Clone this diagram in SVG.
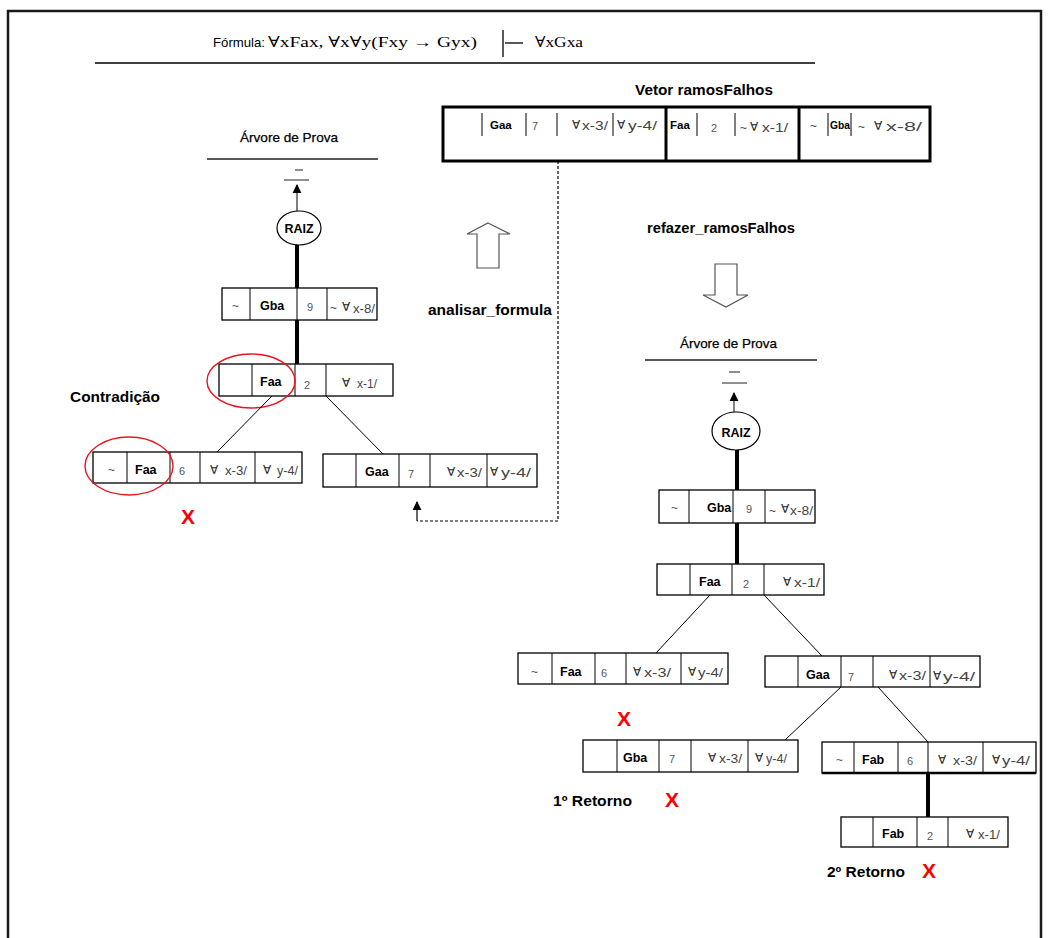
<svg xmlns="http://www.w3.org/2000/svg" width="1051" height="938" viewBox="0 0 1051 938">
  <style>
    text { font-family: "Liberation Sans", Arial, sans-serif; fill: #000; }
    .box { fill: #fff; stroke: #000; stroke-width: 1.3; }
    .vbox { fill: #fff; stroke: #000; stroke-width: 3; }
    .dv { stroke: #000; stroke-width: 1; }
    .dvt { stroke: #000; stroke-width: 3; }
    .b { font-weight: bold; font-size: 12.5px; }
    .bs { font-weight: bold; font-size: 11.5px; }
    .n { font-size: 11px; fill: #555; }
    .t { font-size: 12px; fill: #555; }
    .q { font-size: 12px; fill: #444; }
    .fa { font-family: "DejaVu Sans", sans-serif; font-size: 12px; fill: #222; }
    .lbl { font-weight: bold; font-size: 15px; }
    .ttl { font-size: 13px; stroke: #000; stroke-width: 0.25; }
    .xx { font-weight: bold; font-size: 21px; fill: #f00; }
    .raiz { fill: #fff; stroke: #000; stroke-width: 1.2; }
    .thin { stroke: #000; stroke-width: 1; fill: none; }
    .thick { stroke: #000; stroke-width: 4; fill: none; }
    .dash { stroke: #000; stroke-width: 1.2; fill: none; stroke-dasharray: 3 2; }
    .hollow { fill: #fff; stroke: #555; stroke-width: 1.2; }
    .ring { fill: none; stroke: #e8141c; stroke-width: 1.4; }
    .rule { stroke: #000; stroke-width: 1.3; }
    .serif { font-family: "Liberation Serif", "DejaVu Serif", serif; font-size: 15px; }
  </style>
  <defs>
    <marker id="head" viewBox="0 0 10 10" refX="9" refY="5" markerWidth="9" markerHeight="10" markerUnits="userSpaceOnUse" orient="auto">
      <path d="M0,0 L10,5 L0,10 Z" fill="#000"/>
    </marker>
  </defs>

  <!-- page frame -->
  <path d="M8,938 V11 H1041 V938" fill="none" stroke="#1a1a1a" stroke-width="2.5"/>

  <!-- formula header -->
  <g id="formula">
    <text x="213" y="47" font-size="13.5" textLength="52" lengthAdjust="spacingAndGlyphs">Fórmula:</text>
    <text x="268" y="47" class="serif" textLength="209" lengthAdjust="spacingAndGlyphs">∀xFax, ∀x∀y(Fxy → Gyx)</text>
    <line x1="503" y1="30" x2="503" y2="57" class="rule"/>
    <line x1="505" y1="43" x2="523" y2="43" class="rule"/>
    <text x="535" y="47" class="serif" textLength="48" lengthAdjust="spacingAndGlyphs">∀xGxa</text>
    <line x1="95" y1="63" x2="815" y2="63" stroke="#000" stroke-width="1.5"/>
  </g>

  <!-- vector of failed branches -->
  <g id="vetor">
    <text x="635" y="95" class="lbl" font-size="14.5" textLength="138" lengthAdjust="spacingAndGlyphs">Vetor ramosFalhos</text>
    <rect x="443" y="107" width="487" height="54" class="vbox"/>
    <line x1="666" y1="107" x2="666" y2="161" class="dvt"/>
    <line x1="799" y1="107" x2="799" y2="161" class="dvt"/>
    <line x1="482" y1="113" x2="482" y2="136" class="dv"/>
    <line x1="526" y1="113" x2="526" y2="136" class="dv"/>
    <line x1="557" y1="113" x2="557" y2="136" class="dv"/>
    <line x1="613" y1="113" x2="613" y2="136" class="dv"/>
    <line x1="697" y1="113" x2="697" y2="136" class="dv"/>
    <line x1="735" y1="113" x2="735" y2="136" class="dv"/>
    <line x1="828" y1="113" x2="828" y2="136" class="dv"/>
    <line x1="851" y1="113" x2="851" y2="136" class="dv"/>
    <text x="490" y="129" class="bs">Gaa</text>
    <text x="532" y="130" class="n">7</text>
    <text x="572" y="129" class="fa">∀</text>
    <text x="582" y="130" class="q" textLength="26" lengthAdjust="spacingAndGlyphs">x-3/</text>
    <text x="617" y="129" class="fa">∀</text>
    <text x="628" y="130" class="q" textLength="29" lengthAdjust="spacingAndGlyphs">y-4/</text>
    <text x="670" y="129" class="bs">Faa</text>
    <text x="711" y="132" class="n">2</text>
    <text x="740" y="132" class="q">~</text>
    <text x="750" y="131" class="fa">∀</text>
    <text x="762" y="132" class="q" textLength="26" lengthAdjust="spacingAndGlyphs">x-1/</text>
    <text x="810" y="130" class="q">~</text>
    <text x="830" y="129" class="bs" textLength="20" lengthAdjust="spacingAndGlyphs">Gba</text>
    <text x="858" y="131" class="q">~</text>
    <text x="874" y="130" class="fa">∀</text>
    <text x="886" y="131" class="q" textLength="36" lengthAdjust="spacingAndGlyphs">x-8/</text>
  </g>

  <!-- process arrows and labels -->
  <g id="analisar">
    <polygon points="488,223 510,234 499,234 499,268 477,268 477,234 467,234" class="hollow"/>
    <text x="428" y="315" class="lbl" textLength="124" lengthAdjust="spacingAndGlyphs">analisar_formula</text>
  </g>
  <g id="refazer">
    <text x="647" y="233" class="lbl" textLength="148" lengthAdjust="spacingAndGlyphs">refazer_ramosFalhos</text>
    <polygon points="715,264 737,264 737,295 748,295 726,307 703,295 715,295" class="hollow"/>
  </g>

  <!-- left proof tree -->
  <g id="arvore-esq">
    <text x="240" y="142" class="ttl" textLength="98" lengthAdjust="spacingAndGlyphs">Árvore de Prova</text>
    <line x1="207" y1="159" x2="378" y2="159" stroke="#222" stroke-width="1.3"/>
    <line x1="295" y1="170" x2="303" y2="170" stroke="#222" stroke-width="1"/>
    <line x1="284" y1="180" x2="309" y2="180" stroke="#222" stroke-width="1"/>
  </g>
  <g id="raiz-esq">
    <ellipse cx="299" cy="228" rx="22" ry="17" class="raiz"/>
    <text x="299" y="233" class="b" font-size="14" text-anchor="middle">RAIZ</text>
  </g>
  <g id="esq-gba9">
    <rect x="222" y="288" width="155" height="32" class="box"/>
    <line x1="250" y1="288" x2="250" y2="320" class="dv"/>
    <line x1="297" y1="288" x2="297" y2="320" class="dv"/>
    <line x1="327" y1="288" x2="327" y2="320" class="dv"/>
    <text x="232" y="310" class="t">~</text>
    <text x="260" y="310" class="b">Gba</text>
    <text x="307" y="311" class="n">9</text>
    <text x="330" y="312" class="q">~</text>
    <text x="342" y="311" class="fa">∀</text>
    <text x="353" y="313" class="q" textLength="22" lengthAdjust="spacingAndGlyphs">x-8/</text>
  </g>
  <g id="esq-faa2">
    <rect x="219" y="364" width="174" height="32" class="box"/>
    <line x1="252" y1="364" x2="252" y2="396" class="dv"/>
    <line x1="295" y1="364" x2="295" y2="396" class="dv"/>
    <line x1="326" y1="364" x2="326" y2="396" class="dv"/>
    <text x="260" y="386" class="b">Faa</text>
    <text x="304" y="389" class="n">2</text>
    <text x="342" y="387" class="fa">∀</text>
    <text x="357" y="388" class="q" textLength="20" lengthAdjust="spacingAndGlyphs">x-1/</text>
    <ellipse cx="251" cy="381" rx="44" ry="27" class="ring"/>
  </g>
  <g id="contradicao">
    <text x="70" y="402" class="lbl" textLength="90" lengthAdjust="spacingAndGlyphs">Contradição</text>
  </g>
  <g id="esq-nfaa6">
    <rect x="93" y="452" width="209" height="31" class="box"/>
    <line x1="127" y1="452" x2="127" y2="483" class="dv"/>
    <line x1="170" y1="452" x2="170" y2="483" class="dv"/>
    <line x1="200" y1="452" x2="200" y2="483" class="dv"/>
    <line x1="255" y1="452" x2="255" y2="483" class="dv"/>
    <text x="108" y="474" class="t">~</text>
    <text x="135" y="474" class="b">Faa</text>
    <text x="179" y="475" class="n">6</text>
    <text x="210" y="474" class="fa">∀</text>
    <text x="225" y="475" class="q" textLength="22" lengthAdjust="spacingAndGlyphs">x-3/</text>
    <text x="263" y="474" class="fa">∀</text>
    <text x="277" y="475" class="q" textLength="21" lengthAdjust="spacingAndGlyphs">y-4/</text>
    <ellipse cx="129" cy="466" rx="44" ry="29" class="ring"/>
    <text x="188" y="524" class="xx" text-anchor="middle">X</text>
  </g>
  <g id="esq-gaa7">
    <rect x="323" y="454" width="214" height="33" class="box"/>
    <line x1="356" y1="454" x2="356" y2="487" class="dv"/>
    <line x1="399" y1="454" x2="399" y2="487" class="dv"/>
    <line x1="430" y1="454" x2="430" y2="487" class="dv"/>
    <line x1="487" y1="454" x2="487" y2="487" class="dv"/>
    <text x="365" y="476" class="b">Gaa</text>
    <text x="408" y="478" class="n">7</text>
    <text x="447" y="476" class="fa">∀</text>
    <text x="457" y="477" class="q" textLength="25" lengthAdjust="spacingAndGlyphs">x-3/</text>
    <text x="490" y="476" class="fa">∀</text>
    <text x="501" y="477" class="q" textLength="30" lengthAdjust="spacingAndGlyphs">y-4/</text>
  </g>

  <!-- right proof tree -->
  <g id="arvore-dir">
    <text x="680" y="348" class="ttl" textLength="97" lengthAdjust="spacingAndGlyphs">Árvore de Prova</text>
    <line x1="645" y1="360" x2="817" y2="360" stroke="#222" stroke-width="1.3"/>
    <line x1="729" y1="372" x2="740" y2="372" stroke="#222" stroke-width="1"/>
    <line x1="722" y1="383" x2="747" y2="383" stroke="#222" stroke-width="1"/>
  </g>
  <g id="raiz-dir">
    <ellipse cx="736" cy="431" rx="24" ry="19" class="raiz"/>
    <text x="736" y="437" class="b" font-size="15" text-anchor="middle">RAIZ</text>
  </g>
  <g id="dir-gba9">
    <rect x="659" y="490" width="156" height="33" class="box"/>
    <line x1="689" y1="490" x2="689" y2="523" class="dv"/>
    <line x1="733" y1="490" x2="733" y2="523" class="dv"/>
    <line x1="765" y1="490" x2="765" y2="523" class="dv"/>
    <text x="671" y="512" class="t">~</text>
    <text x="707" y="512" class="b">Gba</text>
    <text x="746" y="513" class="n">9</text>
    <text x="769" y="515" class="q">~</text>
    <text x="781" y="513" class="fa">∀</text>
    <text x="790" y="515" class="q" textLength="23" lengthAdjust="spacingAndGlyphs">x-8/</text>
  </g>
  <g id="dir-faa2">
    <rect x="657" y="564" width="167" height="31" class="box"/>
    <line x1="690" y1="564" x2="690" y2="595" class="dv"/>
    <line x1="732" y1="564" x2="732" y2="595" class="dv"/>
    <line x1="764" y1="564" x2="764" y2="595" class="dv"/>
    <text x="699" y="586" class="b">Faa</text>
    <text x="743" y="588" class="n">2</text>
    <text x="783" y="586" class="fa">∀</text>
    <text x="794" y="587" class="q" textLength="26" lengthAdjust="spacingAndGlyphs">x-1/</text>
  </g>
  <g id="dir-nfaa6">
    <rect x="518" y="653" width="210" height="31" class="box"/>
    <line x1="552" y1="653" x2="552" y2="684" class="dv"/>
    <line x1="595" y1="653" x2="595" y2="684" class="dv"/>
    <line x1="626" y1="653" x2="626" y2="684" class="dv"/>
    <line x1="681" y1="653" x2="681" y2="684" class="dv"/>
    <text x="531" y="676" class="t">~</text>
    <text x="560" y="676" class="b">Faa</text>
    <text x="601" y="677" class="n">6</text>
    <text x="633" y="676" class="fa">∀</text>
    <text x="644" y="677" class="q" textLength="27" lengthAdjust="spacingAndGlyphs">x-3/</text>
    <text x="688" y="676" class="fa">∀</text>
    <text x="698" y="677" class="q" textLength="25" lengthAdjust="spacingAndGlyphs">y-4/</text>
    <text x="624" y="726" class="xx" text-anchor="middle">X</text>
  </g>
  <g id="dir-gaa7">
    <rect x="765" y="656" width="215" height="31" class="box"/>
    <line x1="798" y1="656" x2="798" y2="687" class="dv"/>
    <line x1="841" y1="656" x2="841" y2="687" class="dv"/>
    <line x1="873" y1="656" x2="873" y2="687" class="dv"/>
    <line x1="930" y1="656" x2="930" y2="687" class="dv"/>
    <text x="806" y="679" class="b">Gaa</text>
    <text x="848" y="681" class="n">7</text>
    <text x="889" y="679" class="fa">∀</text>
    <text x="899" y="680" class="q" textLength="27" lengthAdjust="spacingAndGlyphs">x-3/</text>
    <text x="933" y="680" class="fa">∀</text>
    <text x="943" y="681" class="q" textLength="32" lengthAdjust="spacingAndGlyphs">y-4/</text>
  </g>
  <g id="dir-gba7">
    <rect x="583" y="740" width="215" height="32" class="box"/>
    <line x1="617" y1="740" x2="617" y2="772" class="dv"/>
    <line x1="659" y1="740" x2="659" y2="772" class="dv"/>
    <line x1="691" y1="740" x2="691" y2="772" class="dv"/>
    <line x1="748" y1="740" x2="748" y2="772" class="dv"/>
    <text x="623" y="762" class="b">Gba</text>
    <text x="669" y="763" class="n">7</text>
    <text x="708" y="762" class="fa">∀</text>
    <text x="719" y="763" class="q" textLength="23" lengthAdjust="spacingAndGlyphs">x-3/</text>
    <text x="755" y="762" class="fa">∀</text>
    <text x="766" y="763" class="q" textLength="21" lengthAdjust="spacingAndGlyphs">y-4/</text>
  </g>
  <g id="retorno-1">
    <text x="553" y="806" class="lbl" textLength="79" lengthAdjust="spacingAndGlyphs">1º Retorno</text>
    <text x="672" y="807" class="xx" text-anchor="middle">X</text>
  </g>
  <g id="dir-nfab6">
    <rect x="822" y="742" width="214" height="31" class="box"/>
    <line x1="822" y1="773" x2="1036" y2="773" stroke="#000" stroke-width="2.5"/>
    <line x1="854" y1="742" x2="854" y2="773" class="dv"/>
    <line x1="898" y1="742" x2="898" y2="773" class="dv"/>
    <line x1="928" y1="742" x2="928" y2="773" class="dv"/>
    <line x1="983" y1="742" x2="983" y2="773" class="dv"/>
    <text x="836" y="764" class="t">~</text>
    <text x="862" y="764" class="b">Fab</text>
    <text x="907" y="765" class="n">6</text>
    <text x="938" y="764" class="fa">∀</text>
    <text x="953" y="765" class="q" textLength="24" lengthAdjust="spacingAndGlyphs">x-3/</text>
    <text x="992" y="764" class="fa">∀</text>
    <text x="1002" y="765" class="q" textLength="28" lengthAdjust="spacingAndGlyphs">y-4/</text>
  </g>
  <g id="dir-fab2">
    <rect x="841" y="817" width="167" height="30" class="box"/>
    <line x1="873" y1="817" x2="873" y2="847" class="dv"/>
    <line x1="917" y1="817" x2="917" y2="847" class="dv"/>
    <line x1="948" y1="817" x2="948" y2="847" class="dv"/>
    <text x="882" y="838" class="b">Fab</text>
    <text x="927" y="840" class="n">2</text>
    <text x="966" y="838" class="fa">∀</text>
    <text x="978" y="839" class="q" textLength="22" lengthAdjust="spacingAndGlyphs">x-1/</text>
  </g>
  <g id="retorno-2">
    <text x="827" y="877" class="lbl" textLength="78" lengthAdjust="spacingAndGlyphs">2º Retorno</text>
    <text x="929" y="878" class="xx" text-anchor="middle">X</text>
  </g>

  <!-- connectors -->
  <g id="connectors">
    <line x1="297" y1="211" x2="297" y2="185" class="thin" marker-end="url(#head)"/>
    <line x1="297" y1="245" x2="297" y2="288" class="thick"/>
    <line x1="297" y1="320" x2="297" y2="364" class="thick"/>
    <line x1="272" y1="396" x2="217" y2="452" class="thin"/>
    <line x1="326" y1="396" x2="383" y2="454" class="thin"/>
    <path d="M558,161 V521 H417" class="dash"/>
    <line x1="417" y1="521" x2="417" y2="502" stroke="#000" stroke-width="1.2" marker-end="url(#head)"/>

    <line x1="734" y1="412" x2="734" y2="393" class="thin" marker-end="url(#head)"/>
    <line x1="737" y1="450" x2="737" y2="490" class="thick"/>
    <line x1="737" y1="523" x2="737" y2="564" class="thick"/>
    <line x1="710" y1="595" x2="656" y2="653" class="thin"/>
    <line x1="764" y1="595" x2="822" y2="656" class="thin"/>
    <line x1="841" y1="687" x2="785" y2="740" class="thin"/>
    <line x1="878" y1="687" x2="928" y2="742" class="thin"/>
    <line x1="928" y1="773" x2="928" y2="817" class="thick"/>
  </g>
</svg>
